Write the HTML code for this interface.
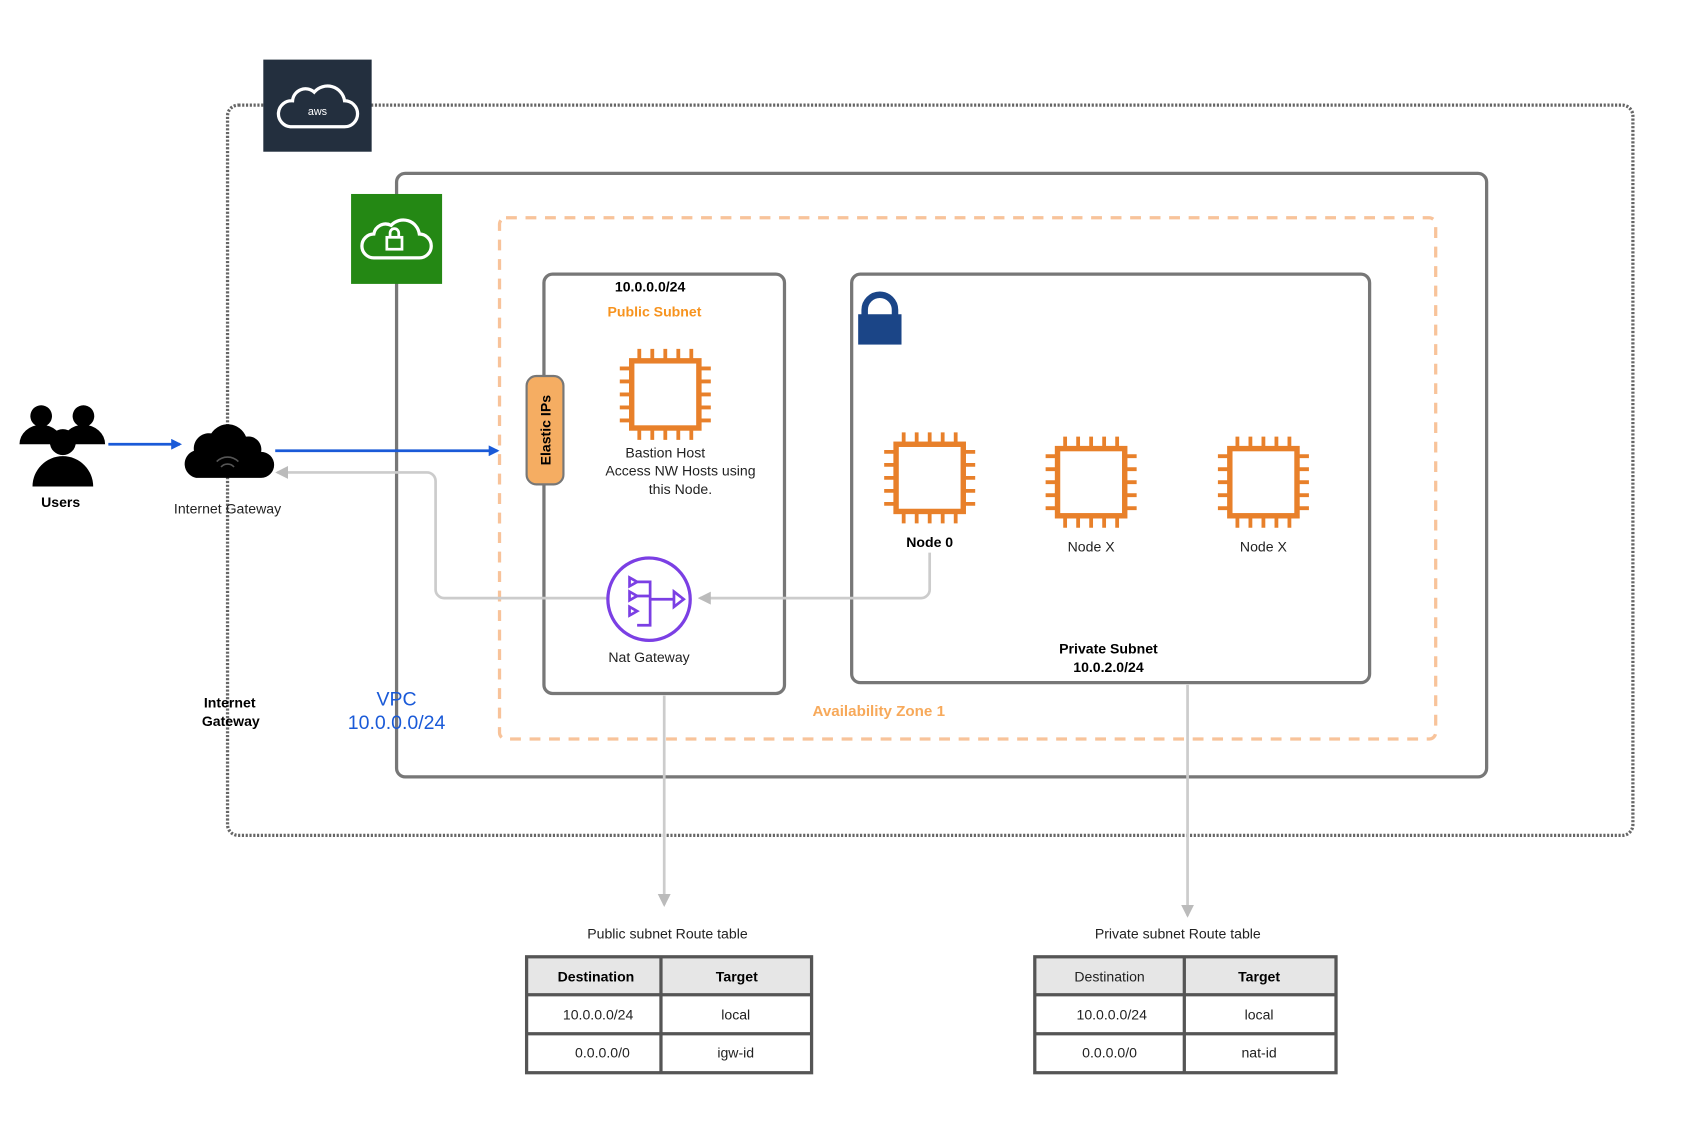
<!DOCTYPE html>
<html><head><meta charset="utf-8"><style>
html,body{margin:0;padding:0;background:#fff;}
svg{display:block;font-family:"Liberation Sans",Arial,sans-serif;}
</style></head><body>
<svg width="1699" height="1141" viewBox="0 0 1568 1053" xmlns="http://www.w3.org/2000/svg">
<defs>
<marker id="ab" markerWidth="10" markerHeight="10" refX="8" refY="5" orient="auto" markerUnits="userSpaceOnUse"><path d="M0,0 L10,5 L0,10 z" fill="#1a5ad8"/></marker>
<marker id="ag" markerWidth="12" markerHeight="12" refX="10" refY="6" orient="auto" markerUnits="userSpaceOnUse"><path d="M0,0 L12,6 L0,12 z" fill="#bbb"/></marker>
<g id="chip">
<rect x="-31" y="-31" width="62" height="62" fill="#fff" stroke="#e8802a" stroke-width="5"/>
<g stroke="#e8802a" stroke-width="3.5">
<path d="M-24,-31v-11M-12,-31v-11M0,-31v-11M12,-31v-11M24,-31v-11"/>
<path d="M-24,31v11M-12,31v11M0,31v11M12,31v11M24,31v11"/>
<path d="M-31,-24h-11M-31,-12h-11M-31,0h-11M-31,12h-11M-31,24h-11"/>
<path d="M31,-24h11M31,-12h11M31,0h11M31,12h11M31,24h11"/>
</g></g>
</defs>

<!-- AWS outer -->
<rect x="210" y="97" width="1297" height="674" rx="10" fill="none" stroke="#666" stroke-width="3" stroke-dasharray="2 1.5"/>
<rect x="243" y="55" width="100" height="85" fill="#232f3e"/>
<path d="M268,117 h50 a12,12 0 0 0 0,-24 a16,16 0 0 0 -28,-8 a12,12 0 0 0 -20,8 a12,12 0 0 0 -2,24z" fill="none" stroke="#fff" stroke-width="3"/>
<text x="293" y="106" font-size="10" fill="#fff" text-anchor="middle">aws</text>

<!-- VPC -->
<rect x="366" y="160" width="1006" height="557" rx="8" fill="none" stroke="#777" stroke-width="3"/>
<rect x="324" y="179" width="84" height="83" fill="#248814"/>
<path d="M345,238 h42 a11,11 0 0 0 0,-22 a15,15 0 0 0 -26,-8 a11,11 0 0 0 -16,8 a11,11 0 0 0 0,22z" fill="none" stroke="#fff" stroke-width="3"/>
<rect x="357" y="219" width="14" height="11" fill="none" stroke="#fff" stroke-width="2.5"/>
<path d="M360,219 v-4 a4,4 0 0 1 8,0 v4" fill="none" stroke="#fff" stroke-width="2.5"/>

<!-- AZ -->
<rect x="461" y="201" width="864" height="481" rx="6" fill="none" stroke="#f8c39a" stroke-width="3" stroke-dasharray="10 8"/>

<!-- Subnets -->
<rect x="502" y="253" width="222" height="387" rx="8" fill="none" stroke="#777" stroke-width="3"/>
<rect x="786" y="253" width="478" height="377" rx="8" fill="none" stroke="#777" stroke-width="3"/>
<rect x="792" y="290" width="40" height="28" fill="#1b4587"/>
<path d="M798,292 v-6 a14,14 0 0 1 28,0 v6" fill="none" stroke="#1b4587" stroke-width="6"/>

<!-- connectors -->
<path d="M100,410 H166" stroke="#1a5ad8" stroke-width="2.5" marker-end="url(#ab)"/>
<path d="M254,416 H459" stroke="#1a5ad8" stroke-width="2.5" marker-end="url(#ab)"/>
<path d="M562,552 H410 a8,8 0 0 1 -8,-8 V444 a8,8 0 0 0 -8,-8 H256" fill="none" stroke="#ccc" stroke-width="2.5" marker-end="url(#ag)"/>
<path d="M858,510 V544 a8,8 0 0 1 -8,8 H646" fill="none" stroke="#ccc" stroke-width="2.5" marker-end="url(#ag)"/>
<path d="M613,642 V835" stroke="#ccc" stroke-width="2.5" marker-end="url(#ag)"/>
<path d="M1096,632 V845" stroke="#ccc" stroke-width="2.5" marker-end="url(#ag)"/>

<!-- Elastic IPs -->
<rect x="486" y="347" width="34" height="100" rx="9" fill="#f5ad62" stroke="#777" stroke-width="2"/>
<text transform="translate(508,397) rotate(-90)" font-size="13" font-weight="bold" text-anchor="middle">Elastic IPs</text>

<!-- Users -->
<g fill="#000">
<circle cx="38" cy="384" r="10"/><path d="M18,410 a20,18 0 0 1 40,0z"/>
<circle cx="77" cy="384" r="10"/><path d="M57,410 a20,18 0 0 1 40,0z"/>
<circle cx="58" cy="408" r="12"/><path d="M30,449 a28,28 0 0 1 56,0z"/>
</g>
<text x="56" y="468" font-size="13" font-weight="bold" text-anchor="middle">Users</text>

<!-- IGW -->
<path d="M181,441 h60 a12,12 0 0 0 0,-24 a12,12 0 0 0 -14,-14 a18,18 0 0 0 -32,-3 a14,14 0 0 0 -16,16 a13,13 0 0 0 2,25z" fill="#000"/>
<path d="M200,426 a14,14 0 0 1 20,0 M204,431 a8,8 0 0 1 12,0" fill="none" stroke="#555" stroke-width="1.5"/>
<text x="210" y="474" font-size="13" fill="#222" text-anchor="middle">Internet Gateway</text>
<text x="212" y="653" font-size="13" font-weight="bold" text-anchor="middle">Internet</text>
<text x="213" y="670" font-size="13" font-weight="bold" text-anchor="middle">Gateway</text>
<text x="366" y="651" font-size="18" fill="#1a5ad8" text-anchor="middle">VPC</text>
<text x="366" y="673" font-size="18" fill="#1a5ad8" text-anchor="middle">10.0.0.0/24</text>

<!-- public subnet content -->
<text x="600" y="269" font-size="13" font-weight="bold" text-anchor="middle">10.0.0.0/24</text>
<text x="604" y="292" font-size="13" font-weight="bold" fill="#f7931e" text-anchor="middle">Public Subnet</text>
<use href="#chip" x="614" y="364"/>
<text x="614" y="422" font-size="13" fill="#222" text-anchor="middle">Bastion Host</text>
<text x="628" y="439" font-size="13" fill="#222" text-anchor="middle">Access NW Hosts using</text>
<text x="628" y="456" font-size="13" fill="#222" text-anchor="middle">this Node.</text>
<circle cx="599" cy="553" r="38" fill="#fff" stroke="#7b3fe4" stroke-width="3"/>
<g stroke="#7b3fe4" stroke-width="2.5" fill="none">
<path d="M581,533 l7,4 l-7,4z M581,546 l7,4 l-7,4z M581,560 l7,4 l-7,4z"/>
<path d="M588,537 h12 v40 h-12 M588,550 h12 M600,553 h22"/>
<path d="M622,546 l9,7 l-9,7z"/>
</g>
<text x="599" y="611" font-size="13" fill="#222" text-anchor="middle">Nat Gateway</text>

<!-- private subnet content -->
<use href="#chip" x="858" y="441"/>
<use href="#chip" x="1007" y="445"/>
<use href="#chip" x="1166" y="445"/>
<text x="858" y="505" font-size="13" font-weight="bold" text-anchor="middle">Node 0</text>
<text x="1007" y="509" font-size="13" fill="#222" text-anchor="middle">Node X</text>
<text x="1166" y="509" font-size="13" fill="#222" text-anchor="middle">Node X</text>
<text x="1023" y="603" font-size="13" font-weight="bold" text-anchor="middle">Private Subnet</text>
<text x="1023" y="620" font-size="13" font-weight="bold" text-anchor="middle">10.0.2.0/24</text>
<text x="811" y="661" font-size="14" font-weight="bold" fill="#f7a95a" text-anchor="middle">Availability Zone 1</text>

<!-- tables -->
<text x="616" y="866" font-size="13" fill="#222" text-anchor="middle">Public subnet Route table</text>
<rect x="486" y="883" width="263" height="35" fill="#e6e6e6"/>
<g fill="none" stroke="#555" stroke-width="3">
<rect x="486" y="883" width="263" height="107"/>
<path d="M610,883 V990 M486,918 H749 M486,954 H749"/>
</g>
<text x="550" y="906" font-size="13" font-weight="bold" text-anchor="middle">Destination</text>
<text x="680" y="906" font-size="13" font-weight="bold" text-anchor="middle">Target</text>
<text x="552" y="941" font-size="13" fill="#222" text-anchor="middle">10.0.0.0/24</text>
<text x="679" y="941" font-size="13" fill="#222" text-anchor="middle">local</text>
<text x="556" y="976" font-size="13" fill="#222" text-anchor="middle">0.0.0.0/0</text>
<text x="679" y="976" font-size="13" fill="#222" text-anchor="middle">igw-id</text>

<text x="1087" y="866" font-size="13" fill="#222" text-anchor="middle">Private subnet Route table</text>
<rect x="955" y="883" width="278" height="35" fill="#e6e6e6"/>
<g fill="none" stroke="#555" stroke-width="3">
<rect x="955" y="883" width="278" height="107"/>
<path d="M1093,883 V990 M955,918 H1233 M955,954 H1233"/>
</g>
<text x="1024" y="906" font-size="13" fill="#222" text-anchor="middle">Destination</text>
<text x="1162" y="906" font-size="13" font-weight="bold" text-anchor="middle">Target</text>
<text x="1026" y="941" font-size="13" fill="#222" text-anchor="middle">10.0.0.0/24</text>
<text x="1162" y="941" font-size="13" fill="#222" text-anchor="middle">local</text>
<text x="1024" y="976" font-size="13" fill="#222" text-anchor="middle">0.0.0.0/0</text>
<text x="1162" y="976" font-size="13" fill="#222" text-anchor="middle">nat-id</text>
</svg>
</body></html>
